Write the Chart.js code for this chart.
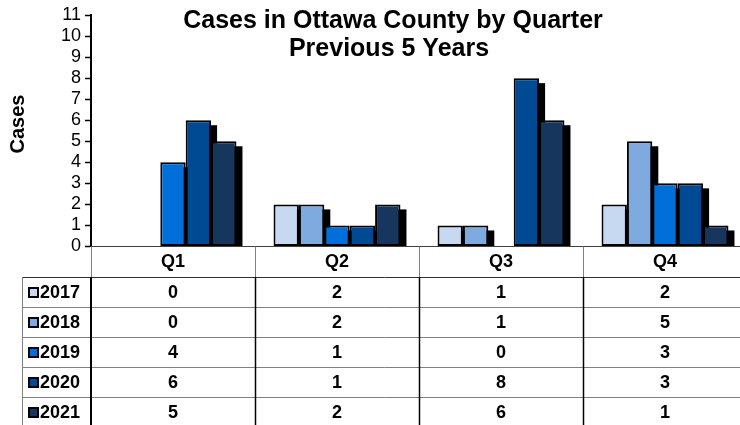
<!DOCTYPE html>
<html>
<head>
<meta charset="utf-8">
<script src="https://cdn.jsdelivr.net/npm/chart.js@4/dist/chart.umd.min.js"></script>
<style>
  html, body { margin: 0; padding: 0; background: #fff; overflow: hidden; }
  #wrap { width: 740px; height: 425px; overflow: hidden; }
</style>
</head>
<body>
<div id="wrap"><canvas id="cases-chart" width="748" height="425"></canvas></div>
<script>
const quarters = ['Q1', 'Q2', 'Q3', 'Q4'];
const years = ['2017', '2018', '2019', '2020', '2021'];
const cases2017 = [0, 2, 1, 2];
const cases2018 = [0, 2, 1, 5];
const cases2019 = [4, 1, 0, 3];
const cases2020 = [6, 1, 8, 3];
const cases2021 = [5, 2, 6, 1];
const yearColors = ['#c6d9f1', '#7faadf', '#006fd9', '#004a94', '#17365d'];
const yMax = 11;

const allCases = [cases2017, cases2018, cases2019, cases2020, cases2021];
const FONT = "'Liberation Sans', Arial, sans-serif";

// black drop shadow under every bar, drawn before the bars themselves
const barShadows = {
  id: 'barShadows',
  beforeDatasetsDraw(chart) {
    const ctx = chart.ctx;
    ctx.save();
    ctx.fillStyle = '#000';
    chart.getSortedVisibleDatasetMetas().forEach(meta => {
      meta.data.forEach(bar => {
        const h = bar.base - bar.y;
        if (h <= 0) return;
        ctx.fillRect(bar.x - bar.width / 2 + 6, bar.y + 5, bar.width, h - 5);
      });
    });
    ctx.restore();
  }
};

// title, y title and the data table under the plot
const dataTable = {
  id: 'dataTable',
  afterDraw(chart) {
    const ctx = chart.ctx;
    const area = chart.chartArea;
    const catW = (area.right - area.left) / quarters.length;
    const colLeft = i => chart.scales.x.getPixelForValue(i) - catW / 2;
    const top = area.bottom;
    const headBottom = top + 30.5;
    const rowH = 30;
    const tableLeft = 22;

    ctx.save();

    // titles
    ctx.fillStyle = '#000';
    ctx.textAlign = 'center';
    ctx.textBaseline = 'alphabetic';
    ctx.font = 'bold 25px ' + FONT;
    ctx.fillText('Cases in Ottawa County by Quarter', 393, 28);
    ctx.fillText('Previous 5 Years', 389, 56);

    ctx.save();
    ctx.translate(18, 124);
    ctx.rotate(-Math.PI / 2);
    ctx.textBaseline = 'middle';
    ctx.font = 'bold 20px ' + FONT;
    ctx.fillText('Cases', 0, 0);
    ctx.restore();

    // baseline of the plot
    ctx.strokeStyle = '#404040';
    ctx.lineWidth = 1;
    ctx.beginPath();
    ctx.moveTo(area.left, top);
    ctx.lineTo(area.right, top);
    ctx.stroke();

    // header cell borders
    ctx.strokeStyle = '#808080';
    for (let i = 0; i <= quarters.length; i++) {
      const x = Math.round(colLeft(i)) + 0.5;
      ctx.beginPath();
      ctx.moveTo(x, top);
      ctx.lineTo(x, headBottom);
      ctx.stroke();
    }

    // row separators
    for (let r = 0; r <= years.length; r++) {
      const y = Math.round(headBottom + r * rowH) + 0.5;
      ctx.strokeStyle = r === 0 ? '#303030' : '#808080';
      ctx.beginPath();
      ctx.moveTo(tableLeft, y);
      ctx.lineTo(area.right, y);
      ctx.stroke();
    }

    // row verticals
    ctx.strokeStyle = '#808080';
    ctx.beginPath();
    ctx.moveTo(tableLeft + 0.5, headBottom);
    ctx.lineTo(tableLeft + 0.5, chart.height);
    ctx.stroke();
    ctx.strokeStyle = '#000';
    for (let i = 0; i < quarters.length; i++) {
      ctx.lineWidth = i === 0 ? 2 : 1.5;
      const x = Math.round(colLeft(i)) + (i === 0 ? 0 : 0.5);
      ctx.beginPath();
      ctx.moveTo(x, headBottom);
      ctx.lineTo(x, chart.height);
      ctx.stroke();
    }

    // header labels
    ctx.fillStyle = '#000';
    ctx.font = 'bold 18px ' + FONT;
    ctx.textAlign = 'center';
    ctx.textBaseline = 'middle';
    quarters.forEach((q, i) => {
      ctx.fillText(q, colLeft(i) + catW / 2, top + 16);
    });

    // rows: legend key, year, values
    years.forEach((yr, r) => {
      const cy = headBottom + r * rowH + rowH / 2 + 1;
      ctx.fillStyle = yearColors[r];
      ctx.fillRect(29, cy - 5, 9, 9);
      ctx.strokeStyle = '#000';
      ctx.lineWidth = 2;
      ctx.strokeRect(29, cy - 5, 9, 9);

      ctx.fillStyle = '#000';
      ctx.textAlign = 'left';
      ctx.fillText(yr, 40, cy);
      ctx.textAlign = 'center';
      allCases[r].forEach((v, i) => {
        ctx.fillText(String(v), colLeft(i) + catW / 2, cy);
      });
    });

    ctx.restore();
  }
};

new Chart(document.getElementById('cases-chart'), {
  type: 'bar',
  data: {
    labels: quarters,
    datasets: years.map((yr, i) => ({
      label: yr,
      data: allCases[i],
      backgroundColor: yearColors[i],
      borderColor: '#000',
      borderWidth: 2,
      borderSkipped: false,
      categoryPercentage: 0.774,
      barPercentage: 1
    }))
  },
  options: {
    responsive: false,
    animation: false,
    layout: { padding: { left: 0, right: 1, top: 15, bottom: 178.5 } },
    plugins: {
      legend: { display: false },
      title: { display: false },
      tooltip: { enabled: false }
    },
    scales: {
      x: { display: false },
      y: {
        min: 0,
        max: yMax,
        afterFit(scale) { scale.width = 91; },
        ticks: {
          stepSize: 1,
          autoSkip: false,
          color: '#000',
          padding: 4,
          font: { family: FONT, size: 18 }
        },
        grid: {
          drawOnChartArea: false,
          drawTicks: true,
          tickLength: 6,
          tickColor: '#000',
          tickWidth: 1.5
        },
        border: { display: true, color: '#000', width: 2 }
      }
    }
  },
  plugins: [barShadows, dataTable]
});
</script>
</body>
</html>
